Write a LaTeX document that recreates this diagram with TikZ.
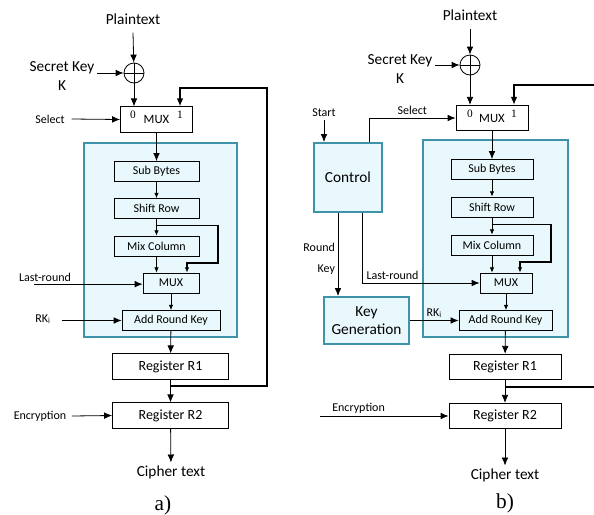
\documentclass[tikz,border=0pt]{standalone}
\usepackage{fontspec}
\setmainfont{Carlito}
\newfontfamily\serifnum{Liberation Serif}
\usetikzlibrary{arrows.meta,calc}
\definecolor{corefill}{HTML}{E9F8FC}
\definecolor{coreline}{HTML}{3E93A8}
\begin{document}
\begin{tikzpicture}[x=0.75pt,y=-0.75pt]
        \tikzstyle{block} = [rectangle, draw=black, line width=.6, text=black, text centered, font=\fontsize{9}{10}\selectfont, inner sep=0pt]
        \tikzstyle{stage} = [block, fill=corefill, minimum height=15pt]
        \tikzstyle{reg} = [block, fill=white, font=\fontsize{10.5}{12}\selectfont, minimum width=87pt, minimum height=19pt]
        \tikzstyle{mux} = [block, fill=white, font=\fontsize{9.5}{11}\selectfont, minimum width=54pt, minimum height=19pt]
        \tikzstyle{core} = [rectangle, draw=coreline, fill=corefill, line width=1.5]
        \tikzstyle{unit} = [core, font=\fontsize{11.5}{14}\selectfont, align=center, inner sep=0pt]
        \tikzstyle{xor} = [circle, draw=black, line width=.6, minimum size=15pt, inner sep=0pt]
        \tikzstyle{sel} = [font=\serifnum\fontsize{8.5}{9}\selectfont, inner sep=0pt]
        \tikzstyle{lbl} = [font=\fontsize{9}{10}\selectfont, inner sep=2pt]
        \tikzstyle{big} = [font=\fontsize{11.5}{14}\selectfont, align=center, inner sep=2pt]
        \tikzstyle{capt} = [font=\serifnum\fontsize{16}{18}\selectfont]
        \tikzstyle{line} = [-{Latex[length=6pt,width=5pt]}, draw=black, line width=.6]
        \tikzstyle{small} = [-{Latex[length=4pt,width=3.5pt]}, draw=black, line width=.6]
        \tikzstyle{noarrow} = [draw=black, line width=.6]
        \tikzstyle{fb} = [draw=black, line width=1.5]
        \tikzstyle{bypass} = [-{Latex[length=4pt,width=3.5pt]}, draw=black, line width=1.1]
        \useasboundingbox (0,0) rectangle (594,515);
        % a)
        \node[core, minimum width=114.75pt, minimum height=145.5pt] (coreA) at (160.5,240) {};
        \node[big] (plainA) at (133,19) {Plaintext};
        \node[xor] (xorA) at (134,73) {};
        \node[big] (keyA) at (62,76) {Secret Key\\K};
        \node[mux] (muxA) at (156.5,119.5) {MUX};
        \node[sel] (zeroA) at (133,115) {0};
        \node[sel] (oneA) at (180,115) {1};
        \node[lbl] (selA) at (50,119) {Select};
        \node[stage, minimum width=63.75pt] (subA) at (156.5,171.5) {Sub Bytes};
        \node[stage, minimum width=63.75pt] (shiftA) at (156.5,208.5) {Shift Row};
        \node[stage, minimum width=63.75pt] (mixA) at (156.5,246) {Mix Column};
        \node[stage, minimum width=42pt] (muxinA) at (171,283) {MUX};
        \node[stage, minimum width=73.5pt] (arkA) at (171,320.5) {Add Round Key};
        \node[lbl] (lastA) at (45,277) {Last-round};
        \node[lbl] (rkA) at (43,319) {RK\textsubscript{i}};
        \node[reg] (r1A) at (170.5,366.5) {Register R1};
        \node[reg] (r2A) at (170.5,415.5) {Register R2};
        \node[lbl] (encA) at (40,416) {Encryption};
        \node[big] (cipherA) at (171,472) {Cipher text};
        \node[capt] (capA) at (163,505) {a)};
        \coordinate (bpA) at (218,263);
        \coordinate (loopA) at (267,88);
        \coordinate (tapA) at ($(r1A.south)!.3!(r2A.north)$);
        \draw[noarrow] (xorA.north) -- (xorA.south) (xorA.west) -- (xorA.east);
        \draw[line] ([yshift=-4pt]plainA.south) -- (xorA);
        \draw[line] (keyA.east |- xorA) -- (xorA.west);
        \draw[line] (xorA) -- (xorA |- muxA.north);
        \draw[line] ([xshift=3pt]selA.east) -- (muxA.west);
        \draw[line] (muxA.south) -- (subA.north);
        \draw[small] (subA) -- (shiftA);
        \draw[small] (shiftA) -- (mixA);
        \draw[bypass] ($(shiftA.south)!.4!(mixA.north)$) -| (bpA) -| ([xshift=12pt]muxinA.north);
        \draw[small] (mixA.south) -- (mixA.south |- muxinA.north);
        \draw[line] ([xshift=-8pt]lastA.south) -- (lastA.south -| muxinA.west);
        \draw[small] (muxinA.south) -- (muxinA.south |- arkA.north);
        \draw[line] ([xshift=6pt]rkA.east |- arkA.west) -- (arkA.west);
        \draw[line] (arkA) -- (r1A);
        \draw[line] (r1A) -- (r2A);
        \draw[fb, -{Latex[length=6pt,width=5pt]}] (tapA) -| (loopA) -| (oneA |- muxA.north);
        \draw[line] ([xshift=2pt]encA.east) -- (r2A.west);
        \draw[line] (r2A) -- (cipherA);
        % b)
        \node[core, minimum width=108.75pt, minimum height=147.75pt] (coreB) at (495.5,238.5) {};
        \node[big] (plainB) at (470,15) {Plaintext};
        \node[xor] (xorB) at (470,65) {};
        \node[big] (keyB) at (400,69) {Secret Key\\K};
        \node[mux] (muxB) at (492,118) {MUX};
        \node[sel] (zeroB) at (470,114) {0};
        \node[sel] (oneB) at (514,114) {1};
        \node[lbl] (startB) at (324,113) {Start};
        \node[unit, minimum width=51pt, minimum height=51.75pt] (controlB) at (348,177.5) {Control};
        \node[unit, minimum width=63.75pt, minimum height=35.25pt] (keygenB) at (366.5,320.5) {Key\\Generation};
        \node[stage, minimum width=61.5pt] (subB) at (492,169.5) {Sub Bytes};
        \node[stage, minimum width=61.5pt] (shiftB) at (492,207) {Shift Row};
        \node[stage, minimum width=61.5pt] (mixB) at (492,245) {Mix Column};
        \node[stage, minimum width=39pt] (muxinB) at (506,283) {MUX};
        \node[stage, minimum width=69.75pt] (arkB) at (505.5,320.5) {Add Round Key};
        \node[reg, minimum width=84pt] (r1B) at (505,367) {Register R1};
        \node[reg, minimum width=84pt] (r2B) at (505,416) {Register R2};
        \node[big] (cipherB) at (505,475) {Cipher text};
        \node[capt] (capB) at (505,503) {b)};
        \coordinate (bpB) at (551,262);
        \coordinate (loopB) at (594,85);
        \coordinate (encB) at (320,416);
        \coordinate (tapB) at ($(r1B.south)!.3!(r2B.north)$);
        \draw[noarrow] (xorB.north) -- (xorB.south) (xorB.west) -- (xorB.east);
        \draw[line] ([yshift=-4pt]plainB.south) -- (xorB);
        \draw[line] (keyB.east |- xorB) -- (xorB.west);
        \draw[line] (xorB) -- (xorB |- muxB.north);
        \draw[line] (startB) -- (startB |- controlB.north);
        \draw[line] ([xshift=15.75pt]controlB.north) |- node[lbl, above, pos=.75] (selB) {Select} (muxB.west);
        \draw[line] ([xshift=-7.5pt]controlB.south) -- node[lbl, left, pos=.41] (roundB) {Round} node[lbl, left, pos=.68] (rkeyB) {Key} ([xshift=-7.5pt]controlB.south |- keygenB.north);
        \draw[line] ([xshift=10.5pt]controlB.south) |- node[lbl, above, pos=.63] (lastB) {Last-round} (muxinB.west);
        \draw[line] (keygenB) -- node[lbl, above] (rkB) {RK\textsubscript{i}} (arkB);
        \draw[line] (muxB.south) -- (subB.north);
        \draw[small] (subB) -- (shiftB);
        \draw[small] (shiftB) -- (mixB);
        \draw[bypass] ($(shiftB.south)!.4!(mixB.north)$) -| (bpB) -| ([xshift=10.5pt]muxinB.north);
        \draw[small] (mixB.south) -- (mixB.south |- muxinB.north);
        \draw[small] (muxinB.south) -- (muxinB.south |- arkB.north);
        \draw[line] (arkB) -- (r1B);
        \draw[line] (r1B) -- (r2B);
        \draw[fb] (tapB) -- (tapB -| loopB);
        \draw[fb, -{Latex[length=6pt,width=5pt]}] (loopB) -| (oneB |- muxB.north);
        \draw[line] (encB) -- node[lbl, above, pos=.3] (encBl) {Encryption} (r2B.west);
        \draw[line] (r2B) -- (cipherB);
    \end{tikzpicture}
\end{document}
